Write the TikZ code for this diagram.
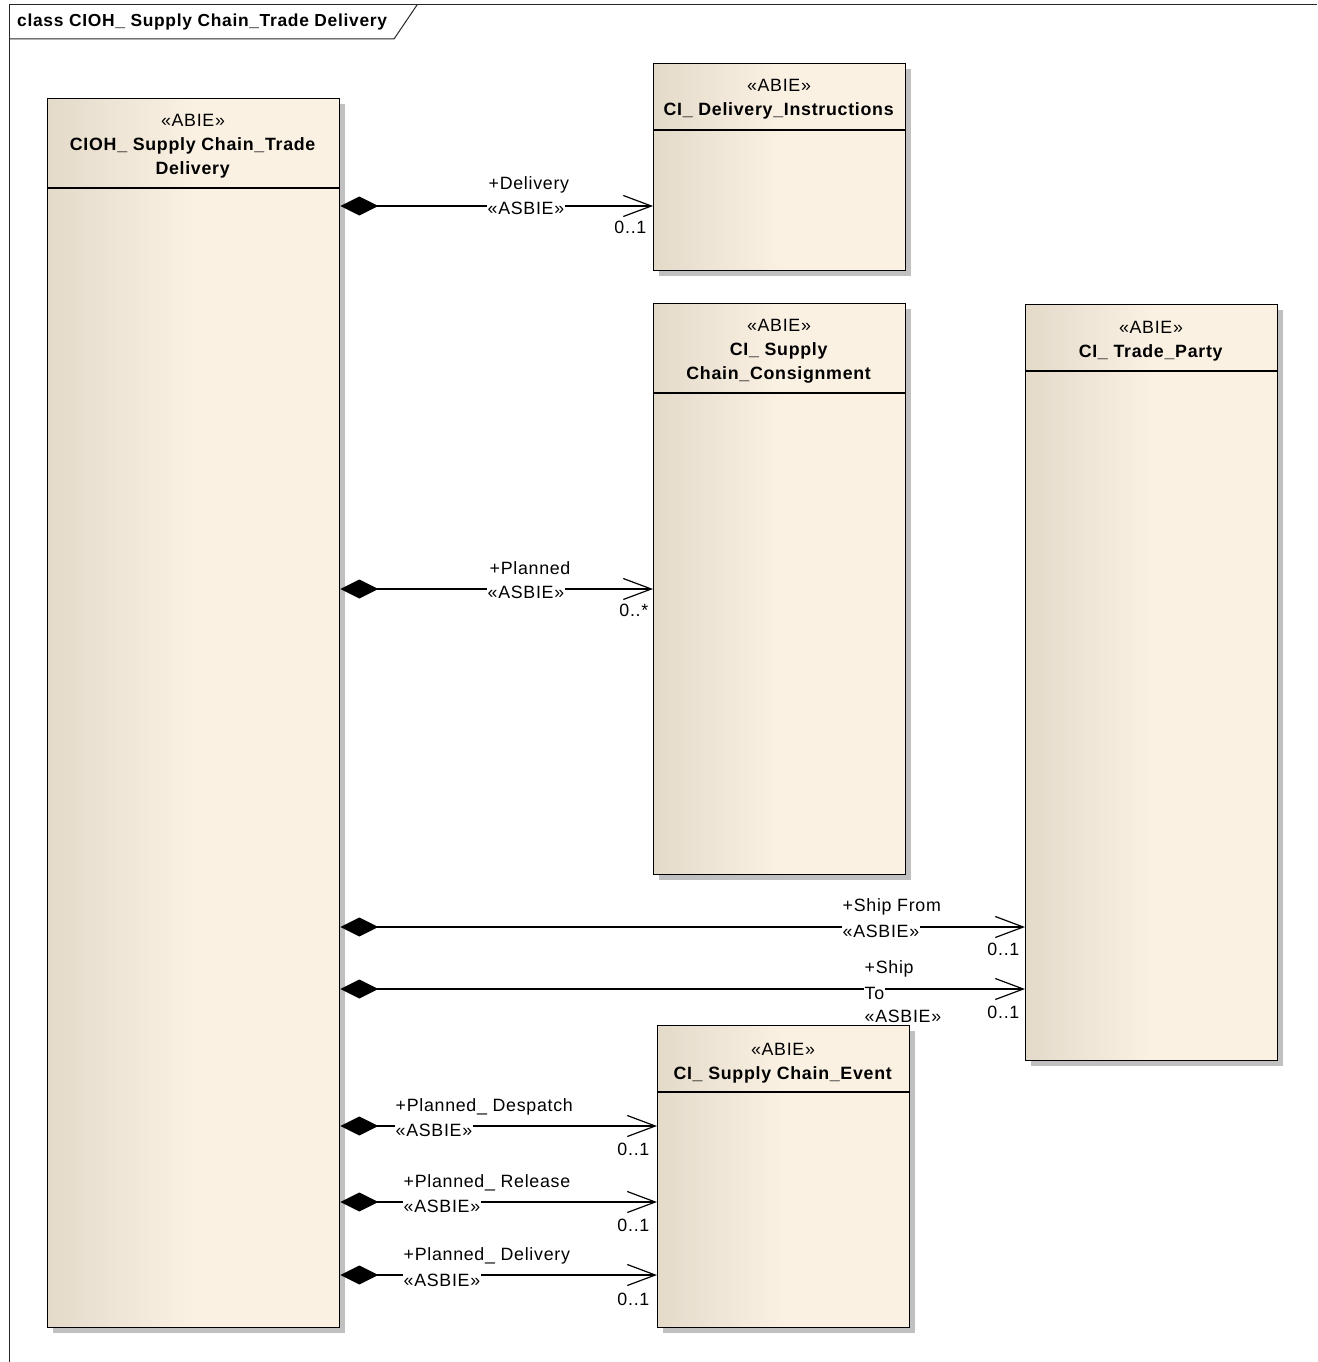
\documentclass[tikz,border=0pt]{standalone}
\usepackage{fontspec}
\setmainfont{Liberation Sans}[LetterSpace=4]
\usetikzlibrary{arrows.meta,shadows}
\definecolor{boxL}{RGB}{227,218,202}
\definecolor{boxR}{RGB}{250,241,227}
\definecolor{shadowc}{RGB}{192,192,192}
\begin{document}
\begin{tikzpicture}[x=1pt,y=-1pt,
  every node/.style={font=\fontsize{17.8}{24}\selectfont},
  cls/.style={draw=black, line width=1.3pt, left color=boxL, right color=boxR, middle color=boxR,
    anchor=north west, inner sep=0pt,
    drop shadow={shadow xshift=5pt, shadow yshift=-5pt, fill=shadowc, opacity=1}},
  divider/.style={draw=black, line width=1.3pt},
  hdr/.style={align=center, inner sep=0pt},
  assoc/.style={line width=1.2pt, {Diamond[length=38pt,width=19pt]}-{Straight Barb[length=28pt,width=21pt]}},
  role/.style={anchor=west, fill=white, inner sep=0.5pt},
  mult/.style={anchor=east, inner sep=0.5pt}]
\useasboundingbox (0,0) rectangle (1317,1362);
\fill[white] (0,0) rectangle (1317,1362);
% frame
\draw[line width=1pt, black!85] (9,1362) -- (9,5) -- (1317,5);
\draw[line width=1pt, black!85] (9,39) -- (394,39) -- (417,5);
\node[anchor=west, inner sep=0pt, font=\fontsize{17.4}{24}\selectfont\bfseries] (title) at (17,22) {class CIOH\_ Supply Chain\_Trade Delivery};
% classes
\node[cls, minimum width=292pt, minimum height=1229pt] (main) at (47,98) {};
\node[cls, minimum width=252pt, minimum height=207pt] (dlv) at (653,63) {};
\node[cls, minimum width=252pt, minimum height=571pt] (cons) at (653,303) {};
\node[cls, minimum width=252pt, minimum height=756pt] (tp) at (1025,304) {};
\node[cls, minimum width=252pt, minimum height=302pt] (evt) at (657,1025) {};
% dividers
\draw[divider] ([yshift=-90pt]main.north west) -- ([yshift=-90pt]main.north east);
\draw[divider] ([yshift=-67pt]dlv.north west) -- ([yshift=-67pt]dlv.north east);
\draw[divider] ([yshift=-90pt]cons.north west) -- ([yshift=-90pt]cons.north east);
\draw[divider] ([yshift=-67pt]tp.north west) -- ([yshift=-67pt]tp.north east);
\draw[divider] ([yshift=-67pt]evt.north west) -- ([yshift=-67pt]evt.north east);
% headers
\node[hdr] (mainT) at (193,146) {«ABIE»\\\textbf{CIOH\_ Supply Chain\_Trade}\\\textbf{Delivery}};
\node[hdr] (dlvT) at (779,99) {«ABIE»\\\textbf{CI\_ Delivery\_Instructions}};
\node[hdr] (consT) at (779,351) {«ABIE»\\\textbf{CI\_ Supply}\\\textbf{Chain\_Consignment}};
\node[hdr] (tpT) at (1151,341) {«ABIE»\\\textbf{CI\_ Trade\_Party}};
\node[hdr] (evtT) at (783,1063) {«ABIE»\\\textbf{CI\_ Supply Chain\_Event}};
% connector levels
\coordinate (y1) at (0,206);
\coordinate (y2) at (0,589);
\coordinate (y3) at (0,927);
\coordinate (y4) at (0,989);
\coordinate (y5) at (0,1126);
\coordinate (y6) at (0,1202);
\coordinate (y7) at (0,1275);
\draw[assoc] (main.east |- y1) -- (dlv.west |- y1);
\draw[assoc] (main.east |- y2) -- (cons.west |- y2);
\draw[assoc] (main.east |- y3) -- (tp.west |- y3);
\draw[assoc] (main.east |- y4) -- (tp.west |- y4);
\draw[assoc] (main.east |- y5) -- (evt.west |- y5);
\draw[assoc] (main.east |- y6) -- (evt.west |- y6);
\draw[assoc] (main.east |- y7) -- (evt.west |- y7);
% labels
\node[role] (l1a) at (488,185) {+Delivery};
\node[role] (l1b) at (487,208) {«ASBIE»};
\node[mult] (m1) at (647,227) {0..1};
\node[role] (l2a) at (489,568) {+Planned};
\node[role] (l2b) at (487,592) {«ASBIE»};
\node[mult] (m2) at (649,610) {0..*};
\node[role] (l3a) at (842,907) {+Ship From};
\node[role] (l3b) at (842,931) {«ASBIE»};
\node[mult] (m3) at (1020,949) {0..1};
\node[role] (l4a) at (864,969) {+Ship};
\node[role] (l4b) at (864,993) {To};
\node[role] (l4c) at (864,1016) {«ASBIE»};
\node[mult] (m4) at (1020,1012) {0..1};
\node[role] (l5a) at (395,1107) {+Planned\_ Despatch};
\node[role] (l5b) at (395,1130) {«ASBIE»};
\node[mult] (m5) at (650,1149) {0..1};
\node[role] (l6a) at (403,1183) {+Planned\_ Release};
\node[role] (l6b) at (403,1206) {«ASBIE»};
\node[mult] (m6) at (650,1225) {0..1};
\node[role] (l7a) at (403,1256) {+Planned\_ Delivery};
\node[role] (l7b) at (403,1280) {«ASBIE»};
\node[mult] (m7) at (650,1299) {0..1};
\end{tikzpicture}
\end{document}
